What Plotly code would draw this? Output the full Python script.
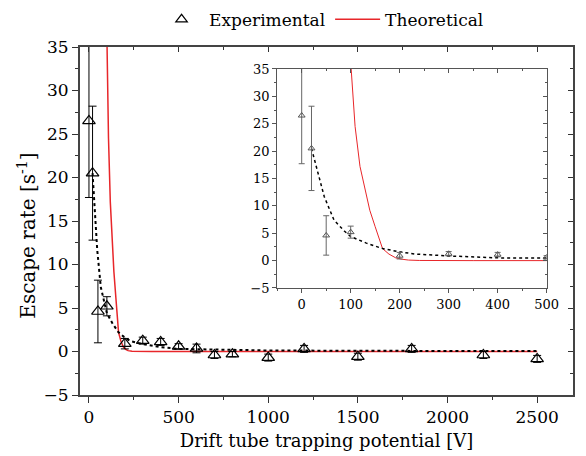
import plotly.graph_objects as go

# Experimental data
exp_x = [0, 20, 50, 100, 200, 300, 400, 500, 600, 700, 800, 1000, 1200, 1500, 1800, 2200, 2500]
exp_y = [26.5, 20.5, 4.6, 5.2, 0.9, 1.25, 1.1, 0.6, 0.35, -0.4, -0.3, -0.7, 0.3, -0.6, 0.3, -0.4, -0.85]
exp_err = [8.8, 7.7, 3.6, 1.1, 0.6, 0.4, 0.4, 0.3, 0.5, 0.4, 0.3, 0.4, 0.4, 0.4, 0.4, 0.4, 0.4]

# Fit curve (dotted)
fit_x = [20, 32, 46, 66, 87, 100, 132, 165, 200, 232, 300, 400, 500, 700, 1000, 1500, 2000, 2500]
fit_y = [20.5, 16.5, 11.7, 7.4, 5.4, 4.4, 3.2, 2.2, 1.6, 1.2, 0.85, 0.5, 0.3, 0.2, 0.12, 0.08, 0.06, 0.05]

# Theoretical curve
theo_x = [101, 109, 119, 130, 139, 150, 159, 165, 178, 192, 205, 218, 240, 270, 350, 500, 1000, 2500]
theo_y = [35, 24.5, 17.2, 12.5, 9.2, 6.2, 3.8, 2.2, 1.2, 0.5, 0.25, 0.1, 0.03, 0.0, 0.0, 0.0, 0.0, 0.0]

FONT = "DejaVu Serif"
main_xr = [-50, 2700]
main_yr = [-5, 35]
ins_xr = [-50, 500]
ins_yr = [-5, 35]

fig = go.Figure()

# Main plot
fig.add_trace(go.Scatter(x=theo_x, y=theo_y, mode="lines", line=dict(color="#e8262a", width=1.5),
                         name="Theoretical", showlegend=False, xaxis="x", yaxis="y"))
fig.add_trace(go.Scatter(x=fit_x, y=fit_y, mode="lines", line=dict(color="black", width=2, dash="dot"),
                         showlegend=False, xaxis="x", yaxis="y"))
fig.add_trace(go.Scatter(x=exp_x, y=exp_y, mode="markers",
                         marker=dict(symbol="triangle-up-open", size=11, color="black", line=dict(width=1.2)),
                         error_y=dict(type="data", array=exp_err, color="black", thickness=1, width=4),
                         name="Experimental", showlegend=False, xaxis="x", yaxis="y"))

# Inset
fig.add_trace(go.Scatter(x=theo_x, y=theo_y, mode="lines", line=dict(color="#e8262a", width=1),
                         showlegend=False, xaxis="x2", yaxis="y2"))
fig.add_trace(go.Scatter(x=fit_x, y=fit_y, mode="lines", line=dict(color="black", width=1.5, dash="dot"),
                         showlegend=False, xaxis="x2", yaxis="y2"))
fig.add_trace(go.Scatter(x=exp_x, y=exp_y, mode="markers",
                         marker=dict(symbol="triangle-up-open", size=6, color="#555555", line=dict(width=1)),
                         error_y=dict(type="data", array=exp_err, color="#666666", thickness=1, width=3),
                         showlegend=False, xaxis="x2", yaxis="y2"))

# Legend-only entries
fig.add_trace(go.Scatter(x=[None], y=[None], mode="markers",
                         marker=dict(symbol="triangle-up-open", size=10, color="black", line=dict(width=1.2)),
                         name="Experimental", xaxis="x", yaxis="y"))
fig.add_trace(go.Scatter(x=[None], y=[None], mode="lines", line=dict(color="#e8262a", width=1.5),
                         name="Theoretical", xaxis="x", yaxis="y"))

# Dummy traces for mirror axes
fig.add_trace(go.Scatter(x=[None], y=[None], xaxis="x3", yaxis="y3", showlegend=False, hoverinfo="skip"))
fig.add_trace(go.Scatter(x=[None], y=[None], xaxis="x4", yaxis="y4", showlegend=False, hoverinfo="skip"))

ins_dom_x = [0.40, 0.9465]
ins_dom_y = [0.3075, 0.9368]

tickfont_main = dict(family=FONT, size=17, color="black")
tickfont_ins = dict(family=FONT, size=13, color="black")

fig.update_layout(
    width=586, height=456,
    margin=dict(l=80, r=1, t=47, b=61),
    paper_bgcolor="white", plot_bgcolor="white",
    font=dict(family=FONT, color="black"),
    legend=dict(orientation="h", x=0.49, xanchor="center", y=1.13, yanchor="top",
                font=dict(family=FONT, size=17, color="black"), itemwidth=45,
                bgcolor="rgba(0,0,0,0)"),
    xaxis=dict(domain=[0, 1], range=main_xr, anchor="y", showgrid=False, zeroline=False,
               tickvals=[0, 500, 1000, 1500, 2000, 2500], ticks="outside", ticklen=6, tickwidth=1,
               tickcolor="#333333",
               minor=dict(dtick=250, tick0=0, ticks="outside", ticklen=3, tickcolor="#333333"),
               showline=True, linecolor="#444444", linewidth=2, tickfont=tickfont_main,
               title=dict(text="Drift tube trapping potential [V]", font=dict(family=FONT, size=18), standoff=8)),
    yaxis=dict(domain=[0, 1], range=main_yr, anchor="x", showgrid=False, zeroline=False,
               tickvals=[-5, 0, 5, 10, 15, 20, 25, 30, 35], ticks="outside", ticklen=6, tickwidth=1,
               tickcolor="#333333",
               minor=dict(dtick=2.5, tick0=0, ticks="outside", ticklen=3, tickcolor="#333333"),
               showline=True, linecolor="#444444", linewidth=2, tickfont=tickfont_main),
    xaxis3=dict(overlaying="x", side="top", anchor="y", range=main_xr, showgrid=False, zeroline=False,
                tickvals=[0, 500, 1000, 1500, 2000, 2500], ticks="inside", ticklen=5, tickcolor="#333333",
                minor=dict(dtick=250, tick0=0, ticks="inside", ticklen=3, tickcolor="#333333"),
                showline=True, linecolor="#444444", linewidth=1.5, showticklabels=False),
    yaxis3=dict(overlaying="y", side="right", anchor="x", range=main_yr, showgrid=False, zeroline=False,
                tickvals=[-5, 0, 5, 10, 15, 20, 25, 30, 35], ticks="inside", ticklen=5, tickcolor="#333333",
                minor=dict(dtick=2.5, tick0=0, ticks="inside", ticklen=3, tickcolor="#333333"),
                showline=True, linecolor="#444444", linewidth=1.5, showticklabels=False),
    xaxis2=dict(domain=ins_dom_x, range=ins_xr, anchor="y2", showgrid=False, zeroline=False,
                tickvals=[0, 100, 200, 300, 400, 500], ticks="outside", ticklen=4, tickcolor="#555555",
                minor=dict(dtick=50, tick0=0, ticks="outside", ticklen=2, tickcolor="#555555"),
                showline=True, linecolor="#555555", linewidth=1, tickfont=tickfont_ins),
    yaxis2=dict(domain=ins_dom_y, range=ins_yr, anchor="x2", showgrid=False, zeroline=False,
                tickvals=[-5, 0, 5, 10, 15, 20, 25, 30, 35], ticks="outside", ticklen=4, tickcolor="#555555",
                minor=dict(dtick=2.5, tick0=0, ticks="outside", ticklen=2, tickcolor="#555555"),
                showline=True, linecolor="#555555", linewidth=1, tickfont=tickfont_ins),
    xaxis4=dict(overlaying="x2", side="top", anchor="y2", range=ins_xr, showgrid=False, zeroline=False,
                tickvals=[0, 100, 200, 300, 400, 500], ticks="inside", ticklen=4, tickcolor="#555555",
                minor=dict(dtick=50, tick0=0, ticks="inside", ticklen=2, tickcolor="#555555"),
                showline=True, linecolor="#555555", linewidth=1, showticklabels=False),
    yaxis4=dict(overlaying="y2", side="right", anchor="x2", range=ins_yr, showgrid=False, zeroline=False,
                tickvals=[-5, 0, 5, 10, 15, 20, 25, 30, 35], ticks="inside", ticklen=4, tickcolor="#555555",
                minor=dict(dtick=2.5, tick0=0, ticks="inside", ticklen=2, tickcolor="#555555"),
                showline=True, linecolor="#555555", linewidth=1, showticklabels=False),
    annotations=[dict(text="Escape rate [s<sup>-1</sup>]", textangle=-90, xref="paper", yref="paper",
                      x=-0.108, y=0.457, xanchor="center", yanchor="middle", showarrow=False,
                      font=dict(family=FONT, size=20, color="black"))],
)

fig.write_html("out.html")
